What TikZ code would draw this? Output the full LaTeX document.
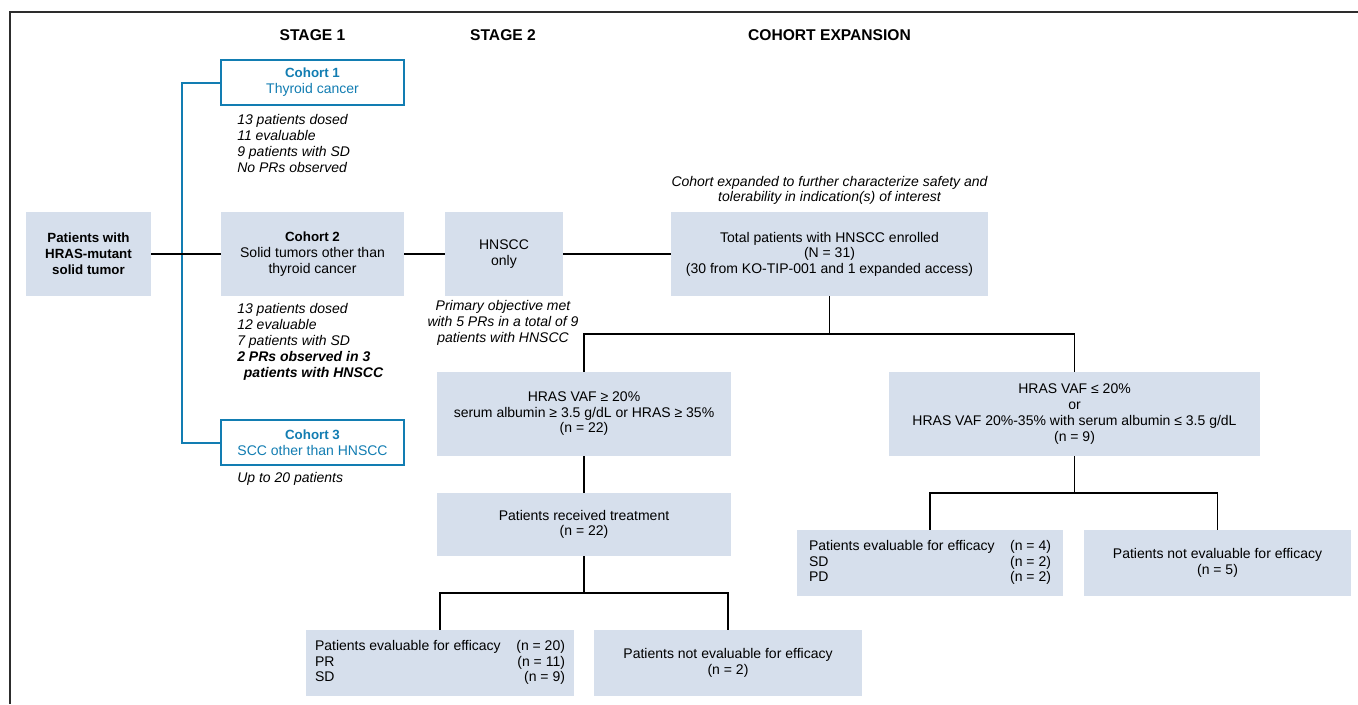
\documentclass[tikz,border=0pt]{standalone}
\usepackage{fontspec}
\setmainfont{Liberation Sans}
\usepackage{tikz}
\usetikzlibrary{positioning}
\definecolor{boxgray}{RGB}{214,223,236}
\definecolor{cohortblue}{RGB}{18,125,178}
\definecolor{framegray}{RGB}{45,45,45}

\begin{document}
\begin{tikzpicture}[x=0.75pt, y=-0.75pt,
        % Node styles (sizes in pt, positions in pixels of the layout)
        flowbox/.style={fill=boxgray, inner sep=0pt, align=center, font=\fontsize{10.5}{11.6}\selectfont},
        cohortbox/.style={draw=cohortblue, line width=1.5pt, fill=white, text=cohortblue, inner sep=0pt, align=center, minimum width=137.25pt, minimum height=33.75pt, font=\fontsize{10.5}{12}\selectfont},
        note/.style={inner sep=0pt, font=\fontsize{10.5}{12}\selectfont\itshape},
        stage/.style={inner sep=0pt, font=\fontsize{11.7}{14}\selectfont\bfseries},
        link/.style={draw=black, line width=1.3pt},
        cohortlink/.style={draw=cohortblue, line width=1.5pt}
    ]
    \useasboundingbox (0,0) rectangle (1358,704);

    % Frame (top and left edges)
    \draw[framegray, line width=1.1pt] (1358,12) -- (10,12) -- (10,704);

    % Column headers
    \node[stage] (st1) at (312.5,35) {STAGE 1};
    \node[stage] (st2) at (503,35) {STAGE 2};
    \node[stage] (stx) at (829.5,35) {COHORT EXPANSION};

    % Start node
    \node[flowbox, font=\fontsize{10}{12}\selectfont\bfseries, minimum width=93.75pt, minimum height=63pt] (pat) at (88.5,254) {Patients with\\HRAS-mutant\\solid tumor};

    % Stage 1: cohorts
    \node[cohortbox] (coh1) at (312.5,82.5) {{\fontsize{10}{12}\selectfont\bfseries Cohort 1}\\Thyroid cancer};
    \node[flowbox, font=\fontsize{10.5}{12}\selectfont, minimum width=137.25pt, minimum height=63pt] (coh2) at (312.5,254) {{\fontsize{10}{12}\selectfont\bfseries Cohort 2}\\Solid tumors other than\\thyroid cancer};
    \node[cohortbox] (coh3) at (312.5,442.5) {{\fontsize{10}{12}\selectfont\bfseries Cohort 3}\\SCC other than HNSCC};

    \node[note, anchor=west, align=left] (coh1note) at (237,143) {13 patients dosed\\11 evaluable\\9 patients with SD\\No PRs observed};
    \node[note, anchor=west, align=left] (coh2note) at (237,342) {13 patients dosed\\12 evaluable\\7 patients with SD\\{\bfseries 2 PRs observed in 3}\\\hspace*{5pt}{\bfseries patients with HNSCC}};
    \node[note, anchor=west] (coh3note) at (237,479) {Up to 20 patients};

    % Stage 2
    \node[flowbox, minimum width=88.5pt, minimum height=63pt] (hnscc) at (504,254) {HNSCC\\only};
    \node[note, align=center] (hnsccnote) at (503,323) {Primary objective met\\with 5 PRs in a total of 9\\patients with HNSCC};

    % Cohort expansion
    \node[note, align=center, font=\fontsize{10.5}{11.6}\selectfont\itshape] (expnote) at (829.5,190.5) {Cohort expanded to further characterize safety and\\tolerability in indication(s) of interest};
    \node[flowbox, minimum width=237.75pt, minimum height=63pt] (total) at (829.5,254) {Total patients with HNSCC enrolled\\(N = 31)\\(30 from KO-TIP-001 and 1 expanded access)};

    \node[flowbox, minimum width=220.5pt, minimum height=63pt] (hivaf) at (584,414) {HRAS VAF ≥ 20\%\\serum albumin ≥ 3.5 g/dL or HRAS ≥ 35\%\\(n = 22)};
    \node[flowbox, font=\fontsize{10.5}{12}\selectfont, minimum width=278.25pt, minimum height=63pt] (lovaf) at (1074.5,414) {HRAS VAF ≤ 20\%\\or\\HRAS VAF 20\%-35\% with serum albumin ≤ 3.5 g/dL\\(n = 9)};

    \node[flowbox, minimum width=220.5pt, minimum height=47.25pt] (treat) at (584,524.5) {Patients received treatment\\(n = 22)};

    \node[flowbox, minimum width=201pt, minimum height=49.5pt] (evalL) at (440,663) {\begin{tabular*}{187.5pt}{@{}l@{\extracolsep{\fill}}r@{}}Patients evaluable for efficacy & (n = 20)\\PR & (n = 11)\\SD & (n = 9)\end{tabular*}};
    \node[flowbox, minimum width=201pt, minimum height=49.5pt] (notevalL) at (728,663) {Patients not evaluable for efficacy\\(n = 2)};

    \node[flowbox, minimum width=199.5pt, minimum height=49.5pt] (evalR) at (930,563) {\begin{tabular*}{181.5pt}{@{}l@{\extracolsep{\fill}}r@{}}Patients evaluable for efficacy & (n = 4)\\SD & (n = 2)\\PD & (n = 2)\end{tabular*}};
    \node[flowbox, minimum width=200.25pt, minimum height=49.5pt] (notevalR) at (1217.5,563) {Patients not evaluable for efficacy\\(n = 5)};

    % Stage 1 branches (blue)
    \draw[cohortlink] (coh1.west) -- ++(-38,0) |- (coh3.west);

    % Main flow (black)
    \draw[link] (pat.east) -- (coh2.west);
    \draw[link] (coh2.east) -- (hnscc.west);
    \draw[link] (hnscc.east) -- (total.west);
    \draw[link] (total.south) -- ++(0,38) coordinate (split1);
    \draw[link] (split1) -| (hivaf.north);
    \draw[link] (split1) -| (lovaf.north);
    \draw[link] (hivaf) -- (treat);
    \draw[link] (treat.south) -- ++(0,37) coordinate (split2);
    \draw[link] (split2) -| (evalL.north);
    \draw[link] (split2) -| (notevalL.north);
    \draw[link] (lovaf.south) -- ++(0,37) coordinate (split3);
    \draw[link] (split3) -| (evalR.north);
    \draw[link] (split3) -| (notevalR.north);

\end{tikzpicture}
\end{document}
